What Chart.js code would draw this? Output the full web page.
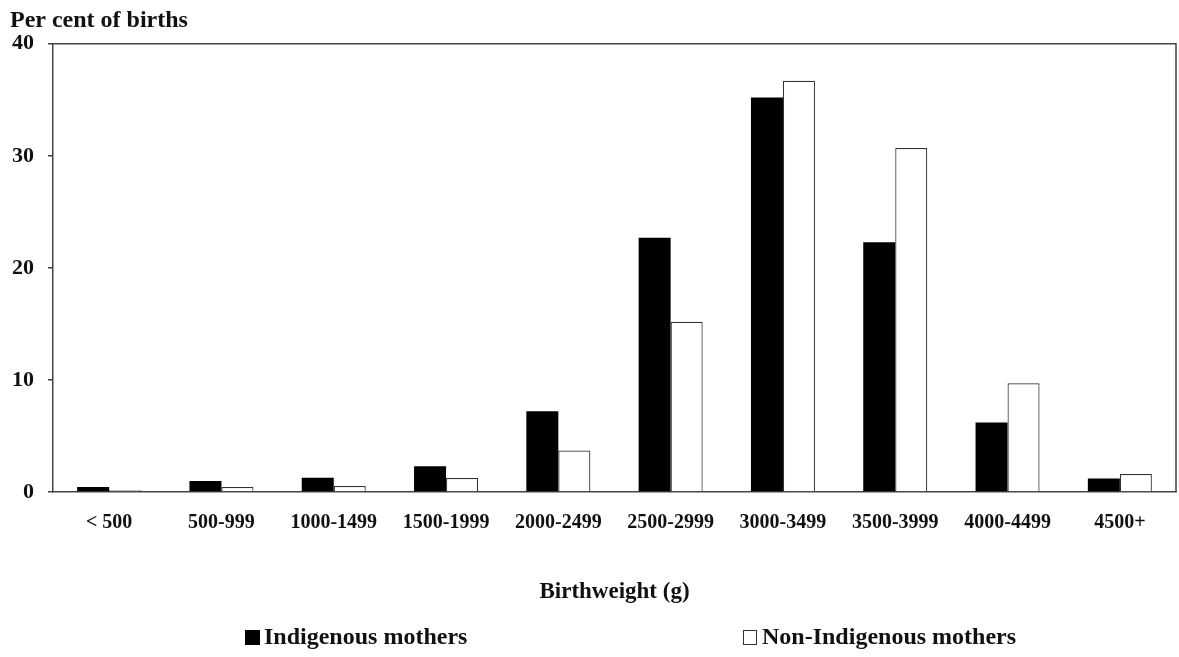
<!DOCTYPE html>
<html lang="en">
<head>
    <meta charset="UTF-8">
    <title>Birthweight distribution</title>
    <script src="https://cdn.jsdelivr.net/npm/chart.js@4.4.1/dist/chart.umd.min.js"></script>
    <style>
        html, body { margin: 0; padding: 0; background: #fff; }
        #wrap { width: 1179px; height: 657px; position: relative; }
    </style>
</head>
<body>

<div id="wrap">
    <canvas id="myChart"></canvas>
</div>

<script>
    // data
    var categories = ['< 500', '500-999', '1000-1499', '1500-1999', '2000-2499',
                      '2500-2999', '3000-3499', '3500-3999', '4000-4499', '4500+'];
    var indigenous = [0.45, 0.98, 1.28, 2.29, 7.2, 22.7, 35.2, 22.3, 6.2, 1.2];
    var nonIndigenous = [0.15, 0.45, 0.54, 1.25, 3.7, 15.2, 36.7, 30.7, 9.7, 1.6];
    var yTicks = [0, 10, 20, 30, 40];

    var serif = '"Liberation Serif", "Times New Roman", serif';
    var frameColor = '#444';

    // box around the plot (top + right edges)
    var framePlugin = {
        id: 'frame',
        afterDatasetsDraw: function(chart) {
            var a = chart.chartArea, ctx = chart.ctx;
            ctx.save();
            ctx.strokeStyle = frameColor;
            ctx.lineWidth = 1.5;
            ctx.beginPath();
            ctx.moveTo(a.left, a.top);
            ctx.lineTo(a.right, a.top);
            ctx.lineTo(a.right, a.bottom);
            ctx.stroke();
            ctx.restore();
        }
    };

    // legend row with wide gap between the two items
    var legendRow = {
        id: 'legendRow',
        afterDraw: function(chart, args, opts) {
            var ctx = chart.ctx;
            ctx.save();
            ctx.font = 'bold 24px ' + serif;
            ctx.textBaseline = 'middle';
            chart.data.datasets.forEach(function(ds, i) {
                var x = opts.x[i], y = opts.y;
                ctx.fillStyle = ds.backgroundColor;
                ctx.fillRect(x, y - 8, 15, 15);
                if (ds.borderWidth) {
                    ctx.strokeStyle = ds.borderColor;
                    ctx.lineWidth = 1;
                    ctx.strokeRect(x + 0.5, y - 7.5, 13, 14);
                }
                ctx.fillStyle = '#111';
                ctx.fillText(ds.label, x + 19, y);
            });
            ctx.restore();
        }
    };

    var ctx = document.getElementById('myChart').getContext('2d');
    var myChart = new Chart(ctx, {
        type: 'bar',
        data: {
            labels: categories,
            datasets: [{
                label: 'Indigenous mothers',
                data: indigenous,
                backgroundColor: '#000',
                borderWidth: 0
            }, {
                label: 'Non-Indigenous mothers',
                data: nonIndigenous,
                backgroundColor: '#fff',
                borderColor: '#333',
                borderWidth: 1.2
            }]
        },
        options: {
            responsive: true,
            maintainAspectRatio: false,
            animation: false,
            layout: { padding: { left: 10, right: 3, top: 0, bottom: 45 } },
            datasets: {
                bar: { categoryPercentage: 0.57, barPercentage: 1 }
            },
            plugins: {
                legend: { display: false },
                tooltip: { enabled: false },
                title: {
                    display: true,
                    text: 'Per cent of births',
                    align: 'start',
                    color: '#111',
                    font: { family: serif, size: 24, weight: 'bold' },
                    padding: { top: 6, bottom: 9 }
                },
                legendRow: { x: [245, 743], y: 638 }
            },
            scales: {
                x: {
                    grid: { display: false, drawTicks: false },
                    border: { display: true, color: frameColor, width: 1.5 },
                    ticks: {
                        color: '#111',
                        padding: 19,
                        maxRotation: 0,
                        autoSkip: false,
                        font: { family: serif, size: 20, weight: 'bold' }
                    },
                    title: {
                        display: true,
                        text: 'Birthweight (g)',
                        color: '#111',
                        font: { family: serif, size: 23, weight: 'bold' },
                        padding: { top: 0, bottom: 6 }
                    },
                    afterFit: function(scale) { scale.height = 120; }
                },
                y: {
                    min: 0,
                    max: 40,
                    afterBuildTicks: function(scale) {
                        scale.ticks = yTicks.map(function(v) { return { value: v }; });
                    },
                    grid: {
                        drawOnChartArea: false,
                        drawTicks: true,
                        tickLength: 5,
                        color: frameColor,
                        lineWidth: 1.5
                    },
                    border: { display: true, color: frameColor, width: 1.5 },
                    ticks: {
                        color: '#111',
                        padding: 14,
                        font: { family: serif, size: 22, weight: 'bold' }
                    },
                    afterFit: function(scale) { scale.width = 43; }
                }
            }
        },
        plugins: [framePlugin, legendRow]
    });
</script>

</body>
</html>
